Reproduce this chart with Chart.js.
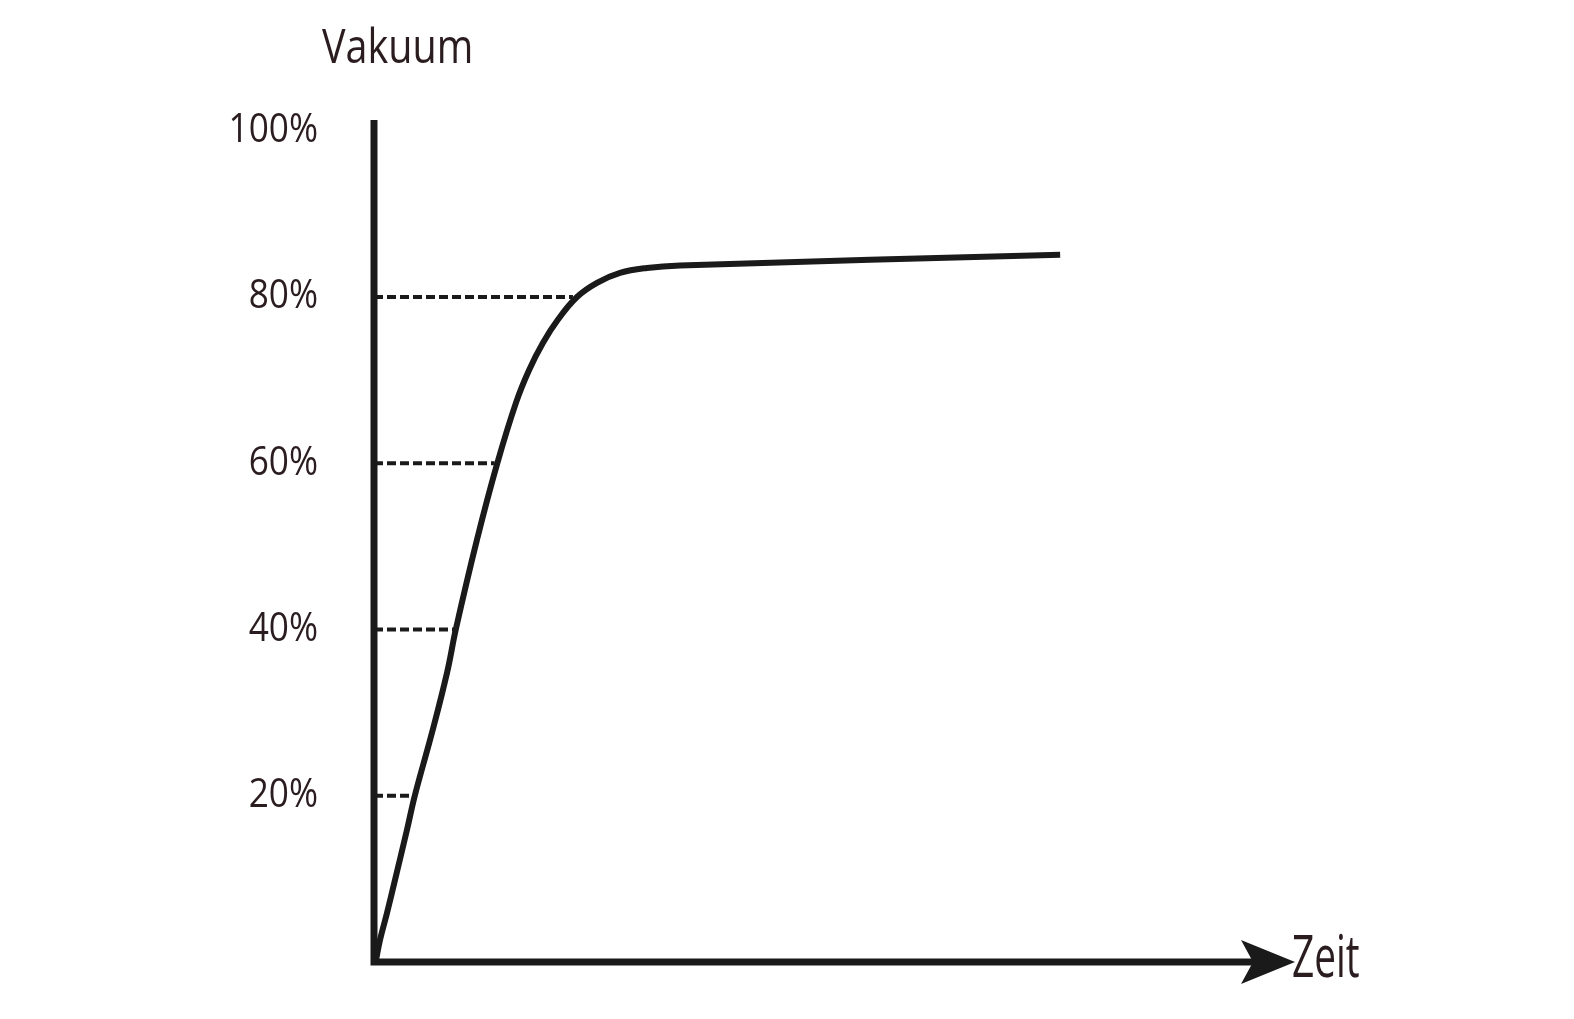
<!DOCTYPE html>
<html>
<head>
<meta charset="utf-8">
<script src="https://cdn.jsdelivr.net/npm/chart.js@4.4.1/dist/chart.umd.min.js"></script>
<style>
  html, body { margin: 0; padding: 0; background: #fff; }
  #wrap { width: 1574px; height: 1019px; }
</style>
</head>
<body>
<div id="wrap"><canvas id="vakuumChart"></canvas></div>
<script>
// Data
const curveTime = [0.22, 0.65, 1.41, 2.28, 3.58, 4.45, 6.3, 7.93, 8.9, 11.18, 13.36, 15.42, 16.83, 18.35, 19.98, 22.04, 24.21, 26.71, 29.64, 33.22, 74.5];
const curveVacuum = [0.24, 2.65, 5.9, 9.87, 15.9, 20.1, 27.6, 34.8, 40.1, 50.8, 59.9, 67.3, 71.2, 74.5, 77.3, 80.0, 81.7, 82.9, 83.5, 83.8, 85.1];
const dashLevels = [20, 40, 60, 80];
const dashEnds = [4.2, 8.7, 13.1, 21.6];
const yTicks = [20, 40, 60, 80, 100];
const yTitle = "Vakuum";
const xTitle = "Zeit";

const ink = "#1a1a1a";
const textInk = "#2a1c1f";
const font = "'Open Sans', sans-serif";

const datasets = [{
    data: curveTime.map((t, i) => ({ x: t, y: curveVacuum[i] })),
    borderColor: ink,
    borderWidth: 6,
    pointRadius: 0,
    tension: 0.4,
    order: 0
}];
dashLevels.forEach((lvl, i) => {
    datasets.push({
        data: [{ x: 0, y: lvl }, { x: dashEnds[i], y: lvl }],
        borderColor: ink,
        borderWidth: 4,
        borderDash: [9, 4],
        pointRadius: 0,
        order: 1
    });
});

// condensed text helper
function narrowText(ctx, text, x, y, size, sx, align) {
    ctx.save();
    ctx.font = size + "px " + font;
    ctx.textBaseline = "middle";
    ctx.textAlign = align;
    ctx.translate(x, y);
    ctx.scale(sx, 1);
    ctx.fillText(text, 0, 0);
    ctx.restore();
}

// axes with arrow, tick labels, titles
const axesPlugin = {
    id: "axes",
    afterDatasetsDraw(chart) {
        const { ctx, chartArea } = chart;
        const yScale = chart.scales.y;
        const x0 = chartArea.left, y0 = chartArea.bottom;
        ctx.save();
        ctx.strokeStyle = ink;
        ctx.fillStyle = ink;
        ctx.lineWidth = 7;
        ctx.lineCap = "butt";
        ctx.beginPath();
        ctx.moveTo(x0, chartArea.top);
        ctx.lineTo(x0, y0 + 3.5);
        ctx.moveTo(x0 - 3.5, y0);
        ctx.lineTo(chartArea.right - 40, y0);
        ctx.stroke();
        // arrow head
        const tip = chartArea.right;
        ctx.beginPath();
        ctx.moveTo(tip, y0);
        ctx.lineTo(tip - 54, y0 - 22);
        ctx.lineTo(tip - 42, y0);
        ctx.lineTo(tip - 54, y0 + 22);
        ctx.closePath();
        ctx.fill();

        ctx.fillStyle = textInk;
        yScale.ticks.forEach(t => {
            narrowText(ctx, t.value + "%", x0 - 56, yScale.getPixelForValue(t.value), 40, 0.88, "right");
        });
        narrowText(ctx, yTitle, 322, 50, 47, 0.84, "left");
        narrowText(ctx, xTitle, tip - 3, y0 - 2, 58, 0.67, "left");
        ctx.restore();
    }
};

new Chart(document.getElementById("vakuumChart"), {
    type: "line",
    data: { datasets: datasets },
    options: {
        responsive: true,
        maintainAspectRatio: false,
        animation: false,
        layout: { padding: { top: 120, right: 279, bottom: 57, left: 0 } },
        plugins: { legend: { display: false }, tooltip: { enabled: false } },
        scales: {
            x: {
                type: "linear",
                min: 0,
                max: 100,
                display: false
            },
            y: {
                type: "linear",
                min: 0,
                max: 101.3,
                grid: { display: false, drawTicks: false },
                border: { display: false },
                afterBuildTicks: scale => { scale.ticks = yTicks.map(v => ({ value: v })); },
                afterFit: scale => { scale.width = 374; },
                ticks: { display: false }
            }
        }
    },
    plugins: [axesPlugin]
});
</script>
</body>
</html>
